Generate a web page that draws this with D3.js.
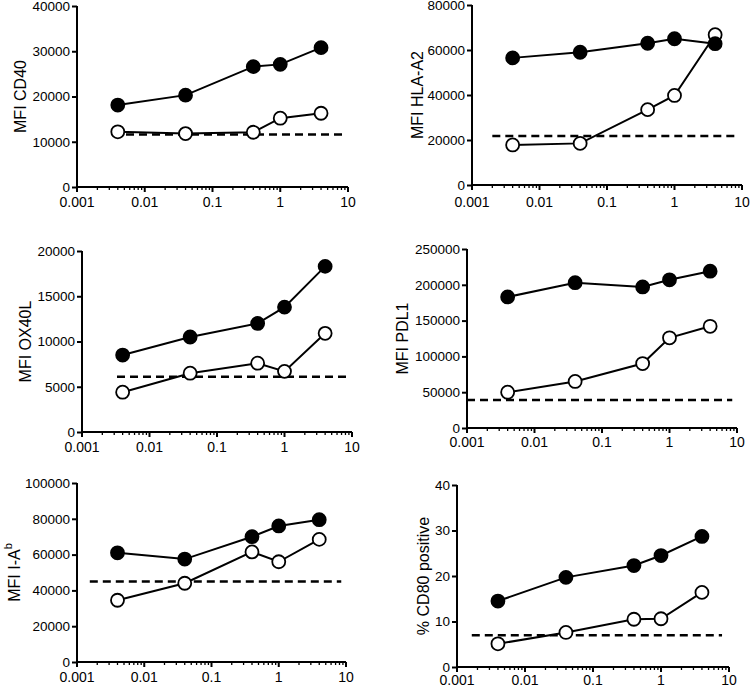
<!DOCTYPE html>
<html>
<head>
<meta charset="utf-8">
<script src="https://cdn.jsdelivr.net/npm/d3@7"></script>
<style>
  body { margin: 0; background: #fff; }
  svg { display: block; font-family: "Liberation Sans", Arial, sans-serif; }
</style>
</head>
<body>
<div id="chart"></div>
<script>
// doses (x values), shared by every panel
const doses = [0.004, 0.04, 0.4, 1, 4];
const xTickLabels = ["0.001", "0.01", "0.1", "1", "10"];

// panel titles (y-axis labels)
const yLabels = ["MFI CD40", "MFI HLA-A2", "MFI OX40L", "MFI PDL1", "MFI I-A", "% CD80 positive"];

// y-axis maxima and tick steps
const yMax = [40000, 80000, 20000, 250000, 100000, 40];
const yStep = [10000, 20000, 5000, 50000, 20000, 10];

// filled circles series
const filledCD40 = [18100, 20300, 26600, 27100, 30800];
const filledHLA = [56500, 59000, 63000, 65000, 62800];
const filledOX40L = [8500, 10500, 12000, 13800, 18300];
const filledPDL1 = [183000, 203000, 197000, 207000, 219000];
const filledIAb = [61000, 57500, 70000, 76000, 79500];
const filledCD80 = [14.5, 19.7, 22.3, 24.5, 28.7];

// open circles series
const openCD40 = [12200, 11800, 12100, 15200, 16300];
const openHLA = [17800, 18500, 33500, 39800, 66800];
const openOX40L = [4400, 6500, 7600, 6700, 10900];
const openPDL1 = [50000, 65000, 90000, 126000, 142000];
const openIAb = [34500, 44000, 61500, 56000, 68500];
const openCD80 = [5.1, 7.6, 10.5, 10.6, 16.4];

// dashed reference levels
const baseline = [11600, 21800, 6100, 39000, 45000, 7.0];

const filledSeries = [filledCD40, filledHLA, filledOX40L, filledPDL1, filledIAb, filledCD80];
const openSeries = [openCD40, openHLA, openOX40L, openPDL1, openIAb, openCD80];

// layout of each panel (pixel box of the plot area, label x, x-label offset, dashed line span)
const layout = [
  {x0: 77,  x1: 348, y0: 6,   y1: 187, lx: 20,  lo: 20, dash: [0.0034, 9.1]},
  {x0: 472, x1: 742, y0: 5,   y1: 185, lx: 417, lo: 22, dash: [0.002, 7.9]},
  {x0: 82,  x1: 352, y0: 251, y1: 432, lx: 25,  lo: 20, dash: [0.0033, 8.5]},
  {x0: 467, x1: 737, y0: 249, y1: 428, lx: 402, lo: 19, dash: [0.001, 8.5]},
  {x0: 77,  x1: 346, y0: 483, y1: 662, lx: 14,  lo: 20, dash: [0.00155, 8.5]},
  {x0: 457, x1: 729, y0: 485, y1: 667, lx: 423, lo: 18, dash: [0.00165, 7.9]}
];

const svg = d3.select("#chart").append("svg")
  .attr("width", 750)
  .attr("height", 688);

const line = d3.line();

layout.forEach((L, i) => {
  const g = svg.append("g");

  const x = d3.scaleLog().domain([0.001, 10]).range([L.x0, L.x1]);
  const y = d3.scaleLinear().domain([0, yMax[i]]).range([L.y1, L.y0]);

  // y axis
  const yAxis = d3.axisLeft(y)
    .tickValues(d3.range(0, yMax[i] + yStep[i] / 2, yStep[i]))
    .tickFormat(d3.format("d"))
    .tickSize(5)
    .tickPadding(2);
  const ya = g.append("g")
    .attr("transform", `translate(${L.x0},0)`)
    .call(yAxis);
  ya.select(".domain").attr("stroke-width", 2).attr("d", `M0,${L.y1 + 1}V${L.y0}`);
  ya.selectAll(".tick line").attr("stroke-width", 2);
  ya.selectAll("text").attr("font-size", 13.5).attr("fill", "#000");

  // x axis with minor log ticks
  const minor = [];
  for (let e = -3; e < 1; e++) {
    for (let k = 2; k <= 9; k++) minor.push(k * Math.pow(10, e));
  }
  const xa = g.append("g").attr("transform", `translate(0,${L.y1})`);
  xa.append("path")
    .attr("d", `M${L.x0 - 1},0H${L.x1}`)
    .attr("stroke", "#000")
    .attr("stroke-width", 2);
  xa.selectAll(".minor")
    .data(minor)
    .enter().append("line")
    .attr("x1", d => x(d)).attr("x2", d => x(d))
    .attr("y1", 0).attr("y2", 3)
    .attr("stroke", "#000").attr("stroke-width", 1.3);
  const majors = [0.001, 0.01, 0.1, 1, 10];
  xa.selectAll(".major")
    .data(majors)
    .enter().append("line")
    .attr("x1", d => x(d)).attr("x2", d => x(d))
    .attr("y1", 0).attr("y2", 5)
    .attr("stroke", "#000").attr("stroke-width", 2);
  xa.selectAll(".xlab")
    .data(majors)
    .enter().append("text")
    .attr("x", d => x(d))
    .attr("y", L.lo)
    .attr("text-anchor", "middle")
    .attr("font-size", 14)
    .attr("fill", "#000")
    .text((d, j) => xTickLabels[j]);

  // y label
  const yl = g.append("text")
    .attr("transform", `translate(${L.lx},${(L.y0 + L.y1) / 2}) rotate(-90)`)
    .attr("text-anchor", "middle")
    .attr("dominant-baseline", "central")
    .attr("font-size", 16)
    .attr("fill", "#000")
    .text(yLabels[i]);
  if (i === 4) {
    yl.append("tspan")
      .attr("baseline-shift", "super")
      .attr("font-size", 11)
      .text("b");
  }

  // dashed reference line
  g.append("line")
    .attr("x1", x(L.dash[0])).attr("x2", x(L.dash[1]))
    .attr("y1", y(baseline[i])).attr("y2", y(baseline[i]))
    .attr("stroke", "#000")
    .attr("stroke-width", 2.5)
    .attr("stroke-dasharray", "8,5");

  // series
  [openSeries[i], filledSeries[i]].forEach((vals, s) => {
    const pts = doses.map((d, j) => [x(d), y(vals[j])]);
    g.append("path")
      .attr("d", line(pts))
      .attr("fill", "none")
      .attr("stroke", "#000")
      .attr("stroke-width", 2);
    g.selectAll(null)
      .data(pts)
      .enter().append("circle")
      .attr("cx", d => d[0])
      .attr("cy", d => d[1])
      .attr("r", 6.5)
      .attr("fill", s === 1 ? "#000" : "#fff")
      .attr("stroke", "#000")
      .attr("stroke-width", 1.8);
  });
});
</script>
</body>
</html>
